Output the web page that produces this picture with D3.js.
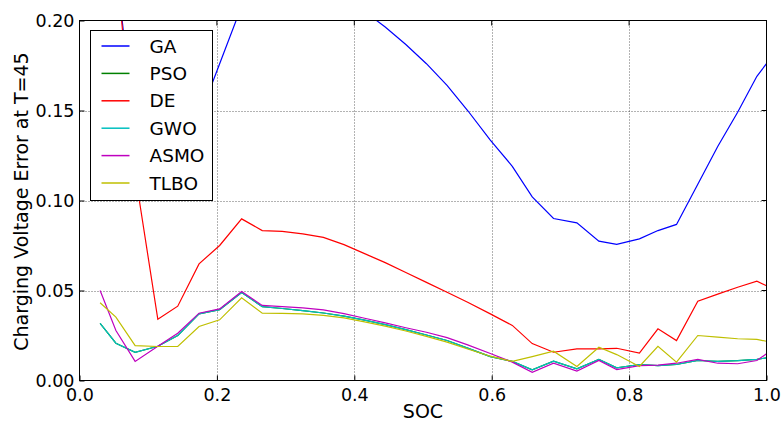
<!DOCTYPE html>
<html>
<head>
<meta charset="utf-8">
<script src="https://cdn.jsdelivr.net/npm/d3@7"></script>
<style>
  body { margin: 0; background: #fff; }
  svg { font-family: "DejaVu Sans", sans-serif; }
</style>
</head>
<body>
<svg id="chart" width="782" height="424"></svg>
<script>
// SOC sample points
const soc = [0.030, 0.053, 0.081, 0.114, 0.143, 0.174, 0.204, 0.236, 0.266, 0.295,
  0.325, 0.355, 0.385, 0.415, 0.445, 0.475, 0.505, 0.535, 0.565, 0.598,
  0.630, 0.659, 0.690, 0.724, 0.756, 0.782, 0.815, 0.842, 0.869, 0.900,
  0.929, 0.958, 0.986, 1.000];

const gaErr = [0.300, 0.232, 0.134, 0.138, 0.142, 0.146, 0.176, 0.208, 0.230, 0.250,
  0.260, 0.260, 0.250, 0.205, 0.1964, 0.1867, 0.176, 0.164, 0.150, 0.1336,
  0.119, 0.102, 0.090, 0.0876, 0.0774, 0.0756, 0.0787, 0.0833, 0.0867, 0.109,
  0.130, 0.149, 0.169, 0.176];

const deErr = [0.350, 0.236, 0.115, 0.034, 0.0413, 0.0648, 0.075, 0.0898, 0.0833, 0.0829,
  0.0815, 0.0795, 0.0755, 0.0705, 0.0655, 0.060, 0.0545, 0.049, 0.0435, 0.037,
  0.0306, 0.0205, 0.0157, 0.0176, 0.0176, 0.0179, 0.0152, 0.0287, 0.0222, 0.044,
  0.048, 0.0518, 0.0552, 0.0526];

const gwoErr = [0.0318, 0.0207, 0.0157, 0.019, 0.025, 0.037, 0.0394, 0.0489, 0.041, 0.040,
  0.0388, 0.0375, 0.0358, 0.0335, 0.031, 0.0283, 0.0253, 0.0222, 0.018, 0.0133,
  0.0106, 0.0059, 0.0107, 0.0065, 0.0117, 0.0070, 0.0089, 0.0083, 0.0089, 0.0111,
  0.0106, 0.0110, 0.0117, 0.0126];

const psoErr = [0.0318, 0.0207, 0.0157, 0.019, 0.025, 0.037, 0.0394, 0.0489, 0.041, 0.040,
  0.0388, 0.0375, 0.0358, 0.0335, 0.031, 0.0283, 0.0253, 0.0222, 0.018, 0.0133,
  0.0106, 0.0059, 0.0107, 0.0065, 0.0117, 0.0070, 0.0089, 0.0083, 0.0089, 0.0111,
  0.0106, 0.0110, 0.0117, 0.0126];

const asmoErr = [0.050, 0.0278, 0.0106, 0.019, 0.0263, 0.0374, 0.0398, 0.0494, 0.0417, 0.041,
  0.0403, 0.0392, 0.0372, 0.0346, 0.032, 0.0293, 0.0268, 0.0238, 0.0198, 0.0150,
  0.0102, 0.0046, 0.0096, 0.0052, 0.0111, 0.0061, 0.0083, 0.0085, 0.0096, 0.0117,
  0.0096, 0.0093, 0.0111, 0.0148];

const tlboErr = [0.0432, 0.0352, 0.0194, 0.0189, 0.0189, 0.030, 0.0337, 0.0459, 0.0374, 0.0373,
  0.037, 0.0362, 0.0348, 0.0326, 0.0302, 0.0275, 0.0245, 0.0213, 0.0175, 0.0135,
  0.0106, 0.0133, 0.0163, 0.0078, 0.0185, 0.0144, 0.0078, 0.019, 0.0102, 0.025,
  0.0241, 0.0232, 0.0228, 0.0218];

const seriesNames = ['GA', 'PSO', 'DE', 'GWO', 'ASMO', 'TLBO'];
const seriesColors = ['#0000ff', '#008000', '#ff0000', '#00bfbf', '#bf00bf', '#bfbf00'];
const seriesValues = [gaErr, psoErr, deErr, gwoErr, asmoErr, tlboErr];

const xTicks = [0.0, 0.2, 0.4, 0.6, 0.8, 1.0];
const yTicks = [0.00, 0.05, 0.10, 0.15, 0.20];

const svg = d3.select('#chart');
const plotLeft = 79.5, plotRight = 766.5, plotTop = 20.5, plotBottom = 380.5;

const x = d3.scaleLinear().domain([0, 1]).range([plotLeft, plotRight]);
const y = d3.scaleLinear().domain([0, 0.2]).range([plotBottom, plotTop]);

svg.append('defs').append('clipPath').attr('id', 'plot-clip')
  .append('rect')
  .attr('x', plotLeft).attr('y', plotTop)
  .attr('width', plotRight - plotLeft).attr('height', plotBottom - plotTop);

// grid
const grid = svg.append('g').attr('class', 'grid');
grid.selectAll('line.gx')
  .data(xTicks.slice(1, -1))
  .enter().append('line')
  .attr('x1', d => Math.round(x(d)) + 0.5).attr('x2', d => Math.round(x(d)) + 0.5)
  .attr('y1', plotTop).attr('y2', plotBottom)
  .attr('stroke', '#000').attr('stroke-width', 0.6).attr('stroke-dasharray', '1,2');
grid.selectAll('line.gy')
  .data(yTicks.slice(1, -1))
  .enter().append('line')
  .attr('y1', d => Math.round(y(d)) + 0.5).attr('y2', d => Math.round(y(d)) + 0.5)
  .attr('x1', plotLeft).attr('x2', plotRight)
  .attr('stroke', '#000').attr('stroke-width', 0.6).attr('stroke-dasharray', '1,2');

// lines
const line = d3.line()
  .x((d, i) => x(soc[i]))
  .y(d => y(d));

svg.append('g')
  .attr('clip-path', 'url(#plot-clip)')
  .selectAll('path')
  .data(seriesValues)
  .enter().append('path')
  .attr('d', d => line(d))
  .attr('fill', 'none')
  .attr('stroke', (d, i) => seriesColors[i])
  .attr('stroke-width', 1.2);

// axes with inward ticks
const xAxis = svg.append('g')
  .attr('transform', `translate(0,${plotBottom})`)
  .call(d3.axisBottom(x).tickValues(xTicks).tickFormat(d3.format('.1f'))
    .tickSizeInner(-5).tickSizeOuter(0).tickPadding(8));
const yAxis = svg.append('g')
  .attr('transform', `translate(${plotLeft},0)`)
  .call(d3.axisLeft(y).tickValues(yTicks).tickFormat(d3.format('.2f'))
    .tickSizeInner(-5).tickSizeOuter(0).tickPadding(5));
[xAxis, yAxis].forEach(a => {
  a.select('.domain').remove();
  a.selectAll('text').attr('font-size', 17.5).attr('fill', '#000')
    .attr('font-family', '"DejaVu Sans", sans-serif');
  a.selectAll('line').attr('stroke', '#000');
});
xAxis.selectAll('text').attr('dy', '0.71em');

// frame
svg.append('rect')
  .attr('x', plotLeft).attr('y', plotTop)
  .attr('width', plotRight - plotLeft).attr('height', plotBottom - plotTop)
  .attr('fill', 'none').attr('stroke', '#000').attr('stroke-width', 1);

// right / top ticks
svg.append('g').selectAll('line')
  .data(yTicks)
  .enter().append('line')
  .attr('x1', plotRight).attr('x2', plotRight - 5)
  .attr('y1', d => y(d)).attr('y2', d => y(d))
  .attr('stroke', '#000');
svg.append('g').selectAll('line')
  .data(xTicks)
  .enter().append('line')
  .attr('y1', plotTop).attr('y2', plotTop + 5)
  .attr('x1', d => x(d)).attr('x2', d => x(d))
  .attr('stroke', '#000');

// axis labels
svg.append('text')
  .attr('x', (plotLeft + plotRight) / 2).attr('y', 418)
  .attr('text-anchor', 'middle').attr('font-size', 19)
  .text('SOC');
svg.append('text')
  .attr('transform', `translate(28,${(plotTop + plotBottom) / 2 + 1}) rotate(-90)`)
  .attr('text-anchor', 'middle').attr('font-size', 19)
  .text('Charging Voltage Error at T=45');

// legend
const legend = svg.append('g').attr('transform', 'translate(90.5,30.5)');
legend.append('rect')
  .attr('width', 122).attr('height', 170)
  .attr('fill', '#fff').attr('stroke', '#000').attr('stroke-width', 1);
const entry = legend.selectAll('g.entry')
  .data(seriesNames)
  .enter().append('g')
  .attr('transform', (d, i) => `translate(0,${15.5 + i * 27.4})`);
entry.append('line')
  .attr('x1', 11).attr('x2', 39)
  .attr('stroke', (d, i) => seriesColors[i]).attr('stroke-width', 1.5);
entry.append('text')
  .attr('x', 59).attr('dy', '0.36em')
  .attr('font-size', 18.5)
  .text(d => d);
</script>
</body>
</html>
